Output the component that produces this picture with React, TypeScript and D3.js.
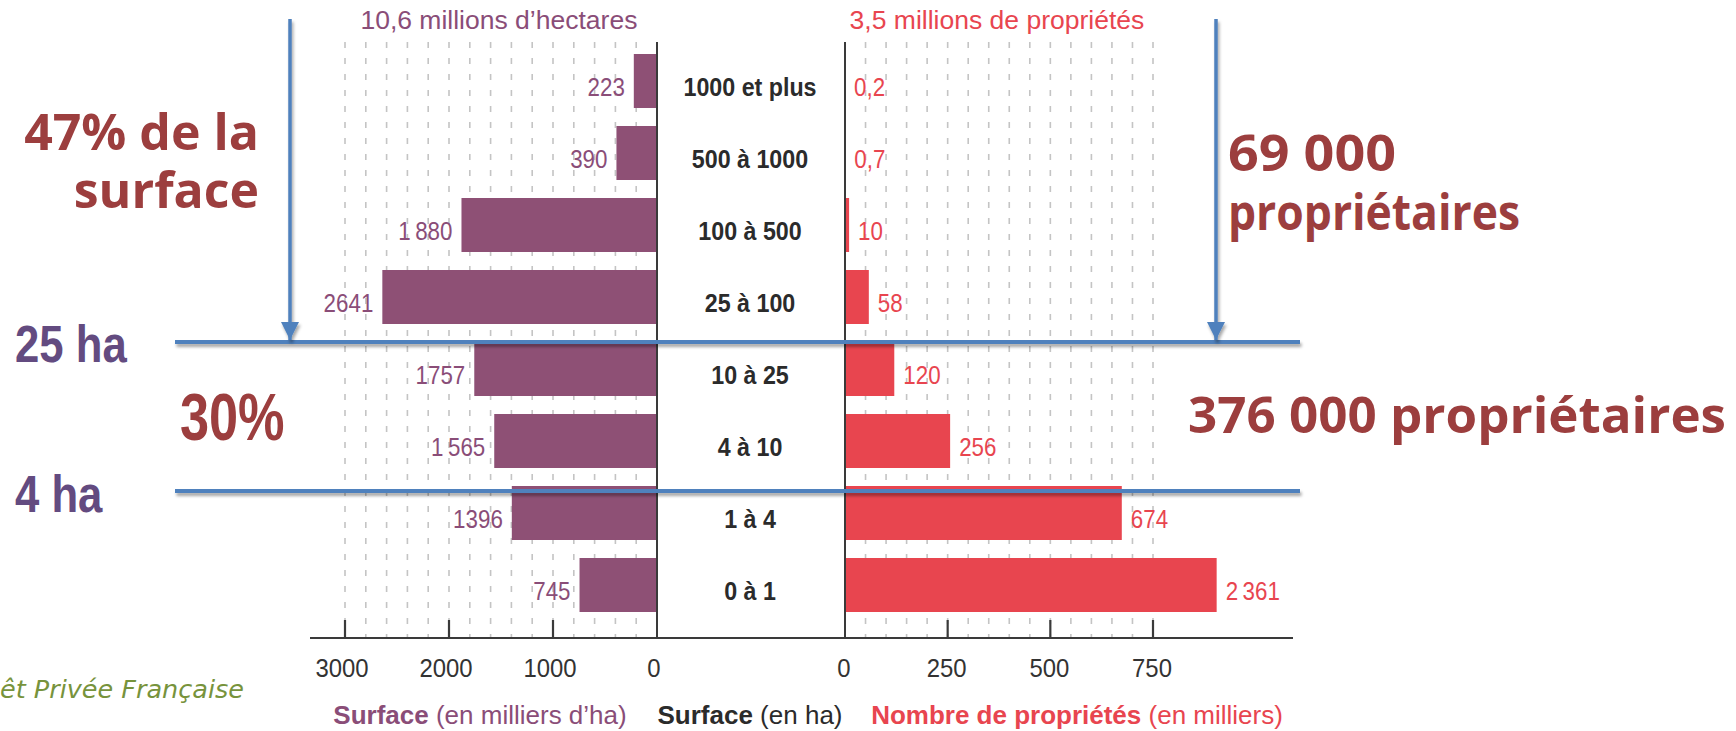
import React from "react";
import * as d3 from "d3";

const categories = ["1000 et plus", "500 à 1000", "100 à 500", "25 à 100", "10 à 25", "4 à 10", "1 à 4", "0 à 1"];
const surfaceValues = [223, 390, 1880, 2641, 1757, 1565, 1396, 745];
const surfaceLabels = ["223", "390", "1\u202F880", "2641", "1757", "1\u202F565", "1396", "745"];
const proprieteValues = [0.2, 0.7, 10, 58, 120, 256, 674, 2361];
const proprieteLabels = ["0,2", "0,7", "10", "58", "120", "256", "674", "2\u202F361"];
const surfaceTicks = [3000, 2000, 1000, 0];
const proprieteTicks = [0, 250, 500, 750];
const surfaceGridStep = 200;
const proprieteGridStep = 50;
const proprieteBreak = 905; // longest bar is cut (broken scale)

const W = 1736;
const H = 731;
const PURPLE = "#8e5075";
const PURPLE_TXT = "#8a4d78";
const RED = "#e8454f";
const DARK = "#2b2b2b";
const BLUE = "#4f81bd";
const ANNOT_RED = "#9c3e3e";
const ANNOT_PURPLE = "#634b80";
const SANS = "'Liberation Sans', Arial, sans-serif";
const HUMANIST = "'Open Sans', 'Noto Sans', sans-serif";

type NProps = {
  x: number;
  y: number;
  sx?: number;
  anchor?: "start" | "middle" | "end";
  children?: React.ReactNode;
  [k: string]: any;
};

function N({ x, y, sx = 0.86, anchor = "start", children, ...rest }: NProps) {
  return (
    <text transform={`translate(${x},${y}) scale(${sx},1)`} textAnchor={anchor} {...rest}>
      {children}
    </text>
  );
}

export default function App() {
  const xL = d3.scaleLinear().domain([0, 3000]).range([657, 345]);
  const xR = d3.scaleLinear().domain([0, 750]).range([845, 1153]);
  const y = d3.scaleBand<string>().domain(categories).range([45, 621]).paddingInner(0.25).paddingOuter(0.125);
  const axisTop = 42;
  const baseY = 638;
  const gridL = d3.range(surfaceGridStep, 3001, surfaceGridStep);
  const gridR = d3.range(proprieteGridStep, 751, proprieteGridStep);
  const bw = y.bandwidth();
  const midCat = (xL(0) + xR(0)) / 2 - 1;
  const labelY = (c: string) => (y(c) as number) + bw / 2 + 15;

  return (
    <div style={{ position: "absolute", left: 0, top: 0 }}>
      <svg width={W} height={H} viewBox={`0 0 ${W} ${H}`} style={{ display: "block", background: "#fff" }}>
        <defs>
          <filter id="shadow" x="-5%" y="-50%" width="110%" height="300%">
            <feDropShadow dx="1.5" dy="3" stdDeviation="1.8" floodColor="#000" floodOpacity="0.35" />
          </filter>
          <marker id="arrow" viewBox="0 0 10 10" refX="10" refY="5" markerWidth="18" markerHeight="18" markerUnits="userSpaceOnUse" orient="auto">
            <path d="M0,0 L10,5 L0,10 z" fill={BLUE} />
          </marker>
        </defs>

        {/* grid lines */}
        <g stroke="#c4c4c4" strokeWidth={1.6} strokeDasharray="6 10">
          {gridL.map((v) => (
            <line key={"gl" + v} x1={xL(v)} x2={xL(v)} y1={axisTop} y2={baseY} />
          ))}
          {gridR.map((v) => (
            <line key={"gr" + v} x1={xR(v)} x2={xR(v)} y1={axisTop} y2={baseY} />
          ))}
        </g>

        {/* left bars */}
        {categories.map((c, i) => (
          <rect key={"bl" + c} x={xL(surfaceValues[i])} y={y(c)} width={xL(0) - xL(surfaceValues[i])} height={bw} fill={PURPLE} />
        ))}
        {/* right bars */}
        {categories.map((c, i) => (
          <rect key={"br" + c} x={xR(0)} y={y(c)} width={xR(Math.min(proprieteValues[i], proprieteBreak)) - xR(0)} height={bw} fill={RED} />
        ))}

        {/* value + category labels */}
        <g fontFamily={SANS} fontSize={26}>
          {categories.map((c, i) => (
            <N key={"vl" + c} x={xL(surfaceValues[i]) - 9} y={labelY(c)} anchor="end" fill={PURPLE_TXT}>
              {surfaceLabels[i]}
            </N>
          ))}
          {categories.map((c, i) => (
            <N key={"vr" + c} x={xR(Math.min(proprieteValues[i], proprieteBreak)) + 9} y={labelY(c)} anchor="start" fill={RED}>
              {proprieteLabels[i]}
            </N>
          ))}
          {categories.map((c) => (
            <N key={"cat" + c} x={midCat} y={labelY(c)} anchor="middle" sx={0.93} fill={DARK} fontWeight="bold" fontSize={25}>
              {c}
            </N>
          ))}
        </g>

        {/* axes */}
        <g stroke="#3a3a3a">
          <line x1={xL(0)} x2={xL(0)} y1={axisTop} y2={baseY} strokeWidth={2} />
          <line x1={xR(0)} x2={xR(0)} y1={axisTop} y2={baseY} strokeWidth={2} />
          <line x1={310} x2={1293} y1={baseY} y2={baseY} strokeWidth={2.2} />
          {surfaceTicks.filter((t) => t !== 0).map((t) => (
            <line key={"tl" + t} x1={xL(t)} x2={xL(t)} y1={baseY - 18} y2={baseY} strokeWidth={2.2} />
          ))}
          {proprieteTicks.filter((t) => t !== 0).map((t) => (
            <line key={"tr" + t} x1={xR(t)} x2={xR(t)} y1={baseY - 18} y2={baseY} strokeWidth={2.2} />
          ))}
        </g>
        <g fontFamily={SANS} fontSize={26} fill="#333">
          {surfaceTicks.map((t) => (
            <N key={"tlt" + t} x={xL(t) - 3} y={677} sx={0.92} anchor="middle">{String(t)}</N>
          ))}
          {proprieteTicks.map((t) => (
            <N key={"trt" + t} x={xR(t) - 1} y={677} sx={0.92} anchor="middle">{String(t)}</N>
          ))}
        </g>

        {/* titles */}
        <g fontFamily={SANS} fontSize={26}>
          <N x={xL(1520)} y={29} sx={1.02} anchor="middle" fill={PURPLE_TXT}>10,6 millions d’hectares</N>
          <N x={xR(370)} y={29} sx={1.02} anchor="middle" fill={RED}>3,5 millions de propriétés</N>
          <N x={480} y={724} sx={1.0} anchor="middle" fill={PURPLE_TXT}>
            <tspan fontWeight="bold">Surface</tspan> (en milliers d’ha)
          </N>
          <N x={midCat} y={724} sx={1.0} anchor="middle" fill={DARK}>
            <tspan fontWeight="bold">Surface</tspan> (en ha)
          </N>
          <N x={1077} y={724} sx={1.0} anchor="middle" fill={RED}>
            <tspan fontWeight="bold">Nombre de propriétés</tspan> (en milliers)
          </N>
        </g>

        {/* source (cut at the left edge in the original) */}
        <text x={0} y={698} fontFamily="'DejaVu Sans', sans-serif" fontStyle="italic" fontSize={25.5} fill="#77933c">
          êt Privée Française
        </text>

        {/* annotations: blue lines and arrows */}
        <g stroke={BLUE} strokeWidth={4} filter="url(#shadow)">
          <line x1={175} x2={1300} y1={342} y2={342} />
          <line x1={175} x2={1300} y1={491} y2={491} />
        </g>
        <g stroke={BLUE} strokeWidth={3.5} filter="url(#shadow)">
          <line x1={290} x2={290} y1={19} y2={340} markerEnd="url(#arrow)" />
          <line x1={1216} x2={1216} y1={19} y2={340} markerEnd="url(#arrow)" />
        </g>

        <g fontFamily={HUMANIST} fontWeight="bold" fontSize={50} fill={ANNOT_RED}>
          <text x={259} y={150} textAnchor="end">47% de la</text>
          <text x={259} y={208} textAnchor="end">surface</text>
          <text x={1228} y={171} textLength={168} lengthAdjust="spacingAndGlyphs">69 000</text>
          <text x={1228} y={230} textLength={292} lengthAdjust="spacingAndGlyphs">propriétaires</text>
          <text x={1188} y={433} textLength={538} lengthAdjust="spacingAndGlyphs">376 000 propriétaires</text>
        </g>
        <g fontFamily={SANS} fontWeight="bold">
          <N x={15} y={362} sx={0.84} fontSize={52} fill={ANNOT_PURPLE}>25 ha</N>
          <N x={15} y={512} sx={0.84} fontSize={52} fill={ANNOT_PURPLE}>4 ha</N>
          <N x={180} y={440} sx={0.78} fontSize={67} fill={ANNOT_RED}>30%</N>
        </g>
      </svg>
    </div>
  );
}
